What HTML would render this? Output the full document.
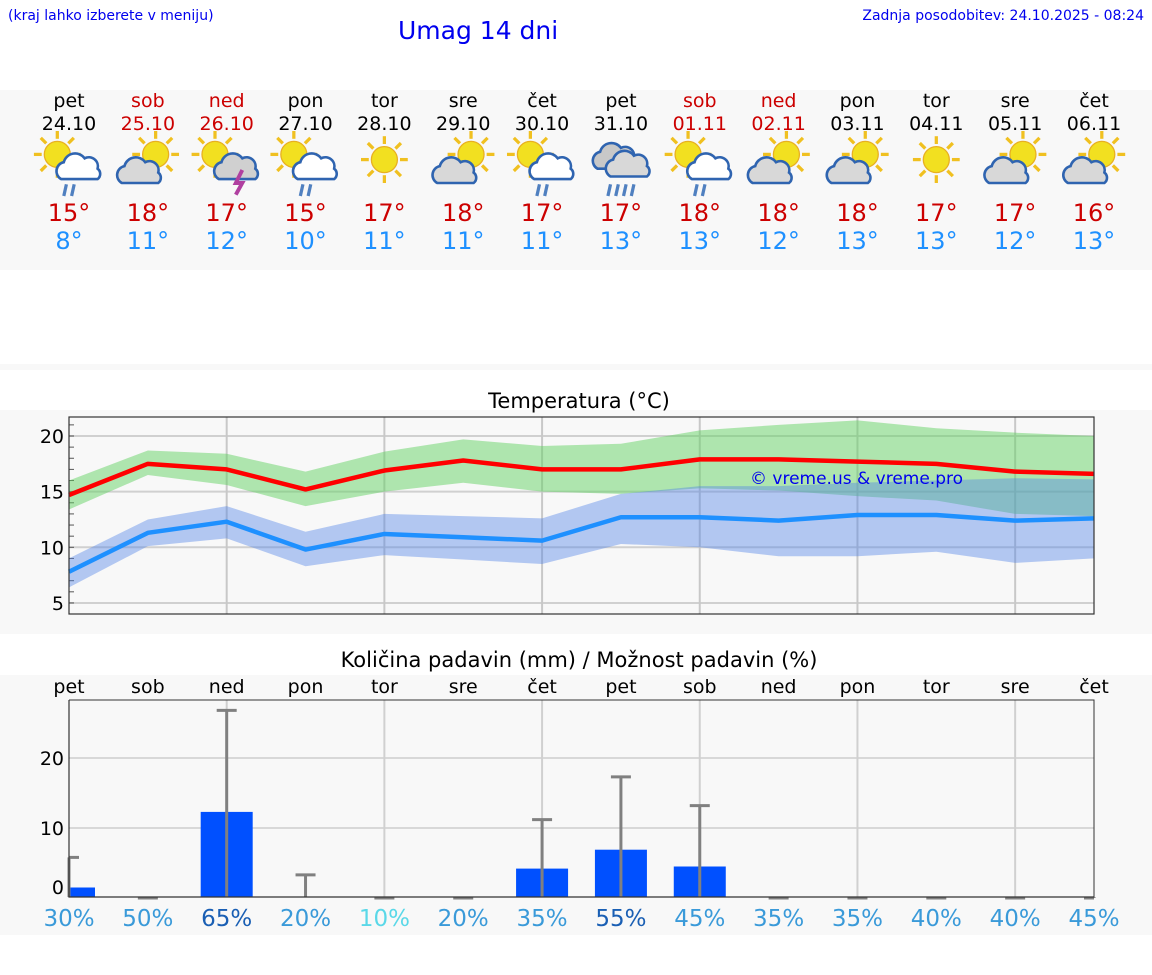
<!DOCTYPE html>
<html><head><meta charset="utf-8"><style>
body{margin:0;width:1152px;height:975px;background:#fff;font-family:"DejaVu Sans","Liberation Sans",sans-serif;position:relative;overflow:hidden}
.a{position:absolute}
</style></head><body>
<div class="a" style="left:8px;top:8px;font-size:14px;color:#0000ee">(kraj lahko izberete v meniju)</div>
<div class="a" style="left:398px;top:16px;font-size:25px;color:#0000ee">Umag 14 dni</div>
<div class="a" style="right:8px;top:8px;font-size:14px;color:#0000ee">Zadnja posodobitev: 24.10.2025 - 08:24</div>
<div class="a" style="left:0;top:90px;width:1152px;height:180px;background:#f8f8f8"></div>
<div class="a" style="left:0;top:364px;width:1152px;height:6px;background:#f8f8f8"></div>
<div class="a" style="left:0;top:410px;width:1152px;height:224px;background:#f8f8f8"></div>
<div class="a" style="left:0;top:675px;width:1152px;height:260px;background:#f8f8f8"></div>
<svg class="a" style="left:0;top:0" width="1152" height="975" id="chart"></svg>
<script>
const dayNames=["pet","sob","ned","pon","tor","sre","čet","pet","sob","ned","pon","tor","sre","čet"];
const dates=["24.10","25.10","26.10","27.10","28.10","29.10","30.10","31.10","01.11","02.11","03.11","04.11","05.11","06.11"];
const weekend=[0,1,1,0,0,0,0,0,1,1,0,0,0,0];
const icons=["sun-cloud-rain","sun-cloud","sun-storm","sun-cloud-rain","sun","sun-cloud","sun-cloud-rain","cloud-rain","sun-cloud-rain","sun-cloud","sun-cloud","sun","sun-cloud","sun-cloud"];
const highs=[15,18,17,15,17,18,17,17,18,18,18,17,17,16];
const lows=[8,11,12,10,11,11,11,13,13,12,13,13,12,13];
const tMax=[14.7,17.5,17.0,15.2,16.9,17.8,17.0,17.0,17.9,17.9,17.7,17.5,16.8,16.6];
const tMaxHi=[16.0,18.7,18.4,16.8,18.6,19.7,19.1,19.3,20.5,21.0,21.4,20.7,20.3,20.0];
const tMaxLo=[13.4,16.5,15.6,13.7,15.0,15.8,15.0,14.8,15.3,15.1,14.6,14.2,13.0,12.8];
const tMin=[7.8,11.3,12.3,9.8,11.2,10.9,10.6,12.7,12.7,12.4,12.9,12.9,12.4,12.6];
const tMinHi=[9.0,12.5,13.7,11.4,13.0,12.8,12.6,14.8,15.5,15.5,15.8,16.0,16.2,16.1];
const tMinLo=[6.4,10.1,10.8,8.3,9.3,8.9,8.5,10.3,10.0,9.2,9.2,9.6,8.6,9.0];
const rain=[1.5,0,12.3,0.2,0,0,4.2,6.9,4.5,0,0,0,0,0];
const rainErr=[5.8,0,26.8,3.3,0,0,11.2,17.3,13.2,0,0,0,0,0];
const prob=[30,50,65,20,10,20,35,55,45,35,35,40,40,45];
const tTicks=[5,10,15,20];
const rTicks=[0,10,20];
const NS="http://www.w3.org/2000/svg";
const svg=document.getElementById('chart');
const X=i=>69+i*(1025/13);
const YT=v=>436+(20-v)*11.13;
const YR=v=>898-v*7;
function mk(tag,at,parent){const e=document.createElementNS(NS,tag);for(const k in at)e.setAttribute(k,at[k]);(parent||svg).appendChild(e);return e;}
function txt(s,x,y,size,fill,anchor){const t=mk('text',{x:x,y:y,'font-size':size,fill:fill,'text-anchor':anchor||'middle','font-family':'DejaVu Sans, Liberation Sans, sans-serif'});t.textContent=s;return t;}
function sun(g,cx,cy,r){for(let k=0;k<8;k++){const a=k*Math.PI/4;mk('line',{x1:cx+Math.cos(a)*(r+2),y1:cy+Math.sin(a)*(r+2),x2:cx+Math.cos(a)*(r+8),y2:cy+Math.sin(a)*(r+8),stroke:'#f0c020','stroke-width':2.5},g);}mk('circle',{cx:cx,cy:cy,r:r,fill:'#f2e020',stroke:'#e8b020','stroke-width':1},g);}
function cloud(g,cx,cy,fill){mk('path',{d:`M${cx-14},${cy+8} a7,7 0 0 1 2,-13 a9,9 0 0 1 16,-3 a7,7 0 0 1 10,8 a5,5 0 0 1 0,8 z`,fill:fill,stroke:'#2f64b0','stroke-width':2},g);}
for(let i=0;i<14;i++){
  const x=X(i), col=weekend[i]?'#cc0000':'#000';
  let t=txt(dayNames[i],x,107,19,col);
  t=txt(dates[i],x,130,19,col);
  const outer=mk('g',{transform:`translate(${x},170) scale(1.3) translate(${-x},-165)`});
  
  const g=outer;
  const ic=icons[i];
  if(ic==='sun'){sun(g,x,157,10);}
  else if(ic==='cloud-rain'){cloud(g,x-4,156,'#c8c8c8');cloud(g,x+6,162,'#d8d8d8');}
  else if(ic==='sun-cloud'){sun(g,x+6,153,10);cloud(g,x-6,167,'#d8d8d8');}
  else{sun(g,x-9,153,10);cloud(g,x+8,164,ic==='sun-storm'?'#d0d0d0':'#fff');}
  if(ic.includes('rain')){for(let k=0;k<(ic==='cloud-rain'?4:2);k++)mk('line',{x1:x-2+k*6-(ic==='cloud-rain'?6:0),y1:176,x2:x-4+k*6-(ic==='cloud-rain'?6:0),y2:185,stroke:'#5080c0','stroke-width':2.5},g);}
  if(ic==='sun-storm')mk('path',{d:`M${x+12},${165} l-5,10 h5 l-5,9`,stroke:'#b040a0','stroke-width':3,fill:'none'},g);
  t=txt(highs[i]+'°',x,221,24,'#cc0000');
  t=txt(lows[i]+'°',x,249,24,'#1e90ff');
}
let t=txt('Temperatura (°C)',579,408,21,'#000');
let r=mk('rect',{x:69,y:417,width:1025,height:197,fill:'#f8f8f8'});
tTicks.forEach(v=>{mk('line',{x1:69,x2:1094,y1:YT(v),y2:YT(v),stroke:'#d0d0d0','stroke-width':2});const l=txt(v,64,YT(v)+7,19,'#000','end');});
for(let v=5;v<=21;v++)mk('line',{x1:69,x2:74,y1:YT(v),y2:YT(v),stroke:'#555','stroke-width':1});
for(let i=2;i<13;i+=2)mk('line',{x1:X(i),x2:X(i),y1:417,y2:614,stroke:'#c8c8c8','stroke-width':2});
function band(hi,lo,fill,name){let d='M'+hi.map((v,i)=>X(i)+','+YT(v)).join('L')+'L'+lo.map((v,i)=>X(i)+','+YT(v)).reverse().join('L')+'Z';const p=mk('path',{d:d,fill:fill});}
function line(a,col,name){const p=mk('polyline',{points:a.map((v,i)=>X(i)+','+YT(v)).join(' '),fill:'none',stroke:col,'stroke-width':4.5,'stroke-linejoin':'round'});}
band(tMaxHi,tMaxLo,'rgba(100,210,100,0.5)','max-temp-band');
band(tMinHi,tMinLo,'rgba(80,130,230,0.42)','min-temp-band');
line(tMax,'#ff0000','max-temp-line');line(tMin,'#1e90ff','min-temp-line');
t=txt('© vreme.us & vreme.pro',750,484,17,'#0000ee','start');
mk('rect',{x:69,y:417,width:1025,height:197,fill:'none',stroke:'#333','stroke-width':1.2});
t=txt('Količina padavin (mm) / Možnost padavin (%)',579,667,21,'#000');
r=mk('rect',{x:69,y:700,width:1025,height:197,fill:'#f8f8f8'});
rTicks.forEach(v=>{if(v>0)mk('line',{x1:69,x2:1094,y1:YR(v),y2:YR(v),stroke:'#d8d8d8','stroke-width':2});const l=txt(v,64,YR(v)+(v?7:-4),19,'#000','end');});
for(let i=2;i<13;i+=2)mk('line',{x1:X(i),x2:X(i),y1:700,y2:897,stroke:'#d0d0d0','stroke-width':2});
const pcol=p=>p>=55?'#1a5fb4':(p<=10?'#5ad8e8':'#3a9ad9');
for(let i=0;i<14;i++){
  const x=X(i);
  let l=txt(dayNames[i],x,693,19,'#000');
  if(rain[i]>0){const x0=Math.max(69,x-26),x1=Math.min(1094,x+26);const b=mk('rect',{x:x0,y:YR(rain[i]),width:x1-x0,height:897-YR(rain[i]),fill:'#0050ff'});}
  const e=mk('g',{stroke:'#808080','stroke-width':3});
  mk('line',{x1:x,x2:x,y1:897,y2:YR(rainErr[i])},e);
  mk('line',{x1:Math.max(69,x-10),x2:Math.min(1094,x+10),y1:YR(rainErr[i]),y2:YR(rainErr[i])},e);
  l=txt(prob[i]+'%',x,926,23,pcol(prob[i]));
}
mk('path',{d:'M69,700 V897 H1094',fill:'none',stroke:'#333','stroke-width':1.2});
mk('path',{d:'M69,700 H1094 V897',fill:'none',stroke:'#333','stroke-width':1});
</script>
</body></html>
